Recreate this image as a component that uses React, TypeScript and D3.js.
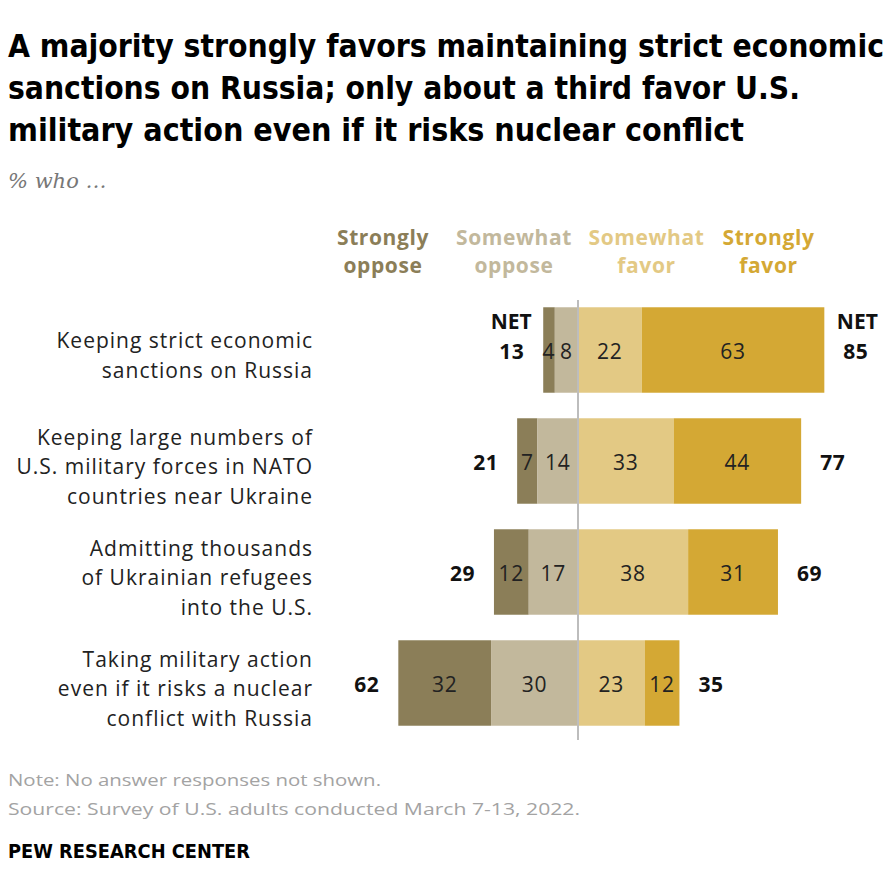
import React from "react";
import * as d3 from "d3";

const titleLines = [
  "A majority strongly favors maintaining strict economic",
  "sanctions on Russia; only about a third favor U.S.",
  "military action even if it risks nuclear conflict",
];
const subtitle = "% who \u2026";
const categories = [
  "Keeping strict economic sanctions on Russia",
  "Keeping large numbers of U.S. military forces in NATO countries near Ukraine",
  "Admitting thousands of Ukrainian refugees into the U.S.",
  "Taking military action even if it risks a nuclear conflict with Russia",
];
const categoryLines = [
  ["Keeping strict economic", "sanctions on Russia"],
  ["Keeping large numbers of", "U.S. military forces in NATO", "countries near Ukraine"],
  ["Admitting thousands", "of Ukrainian refugees", "into the U.S."],
  ["Taking military action", "even if it risks a nuclear", "conflict with Russia"],
];
const stronglyOppose = [4, 7, 12, 32];
const somewhatOppose = [8, 14, 17, 30];
const somewhatFavor = [22, 33, 38, 23];
const stronglyFavor = [63, 44, 31, 12];
const netOppose = [13, 21, 29, 62];
const netFavor = [85, 77, 69, 35];
const legendLabels = [
  ["Strongly", "oppose"],
  ["Somewhat", "oppose"],
  ["Somewhat", "favor"],
  ["Strongly", "favor"],
];
const noteText = "Note: No answer responses not shown.";
const sourceText = "Source: Survey of U.S. adults conducted March 7-13, 2022.";
const brandText = "PEW RESEARCH CENTER";

const COLORS = ["#8b7e58", "#c2b89c", "#e3c984", "#d4a834"];
const BODY = "'Open Sans', 'Liberation Sans', sans-serif";
const COND = "'Liberation Sans Narrow', 'DejaVu Sans Condensed', 'Roboto Condensed', sans-serif";

export default function App() {
  const W = 896;
  const H = 872;
  const center = 578;
  const unit = 2.898;
  const x = d3.scaleLinear().domain([-100, 100]).range([center - 100 * unit, center + 100 * unit]);
  const y = d3
    .scaleBand<string>()
    .domain(categories)
    .range([294.5, 738.5])
    .paddingInner(0.23)
    .paddingOuter(0.115);

  const legendCenters = [383, 514, 646.5, 768.5];

  return (
    <svg width={W} height={H} style={{ position: "absolute", left: 0, top: 0, background: "#fff" }}>
      {titleLines.map((t, i) => (
        <text
          key={i}
          x={8}
          y={57 + i * 42}
          fontFamily={COND}
          fontWeight={700}
          fontSize={31.5}
          fill="#000"
          textLength={[876, 792, 736][i]}
          lengthAdjust="spacingAndGlyphs"
        >
          {t}
        </text>
      ))}
      <text x={8} y={188} fontFamily="'DejaVu Serif', 'Liberation Serif', serif" fontStyle="italic" fontSize={21} fill="#777">
        {subtitle}
      </text>

      {legendLabels.map((lines, i) =>
        lines.map((l, j) => (
          <text
            key={i + "-" + j}
            x={legendCenters[i]}
            y={245 + j * 28}
            textAnchor="middle"
            fontFamily={BODY}
            fontWeight={700}
            fontSize={21}
            letterSpacing={0.6}
            fill={COLORS[i]}
          >
            {l}
          </text>
        ))
      )}

      {categories.map((c, i) => {
        const y0 = y(c)!;
        const bh = y.bandwidth();
        const cy = y0 + bh / 2;
        const segs = [
          { v: stronglyOppose[i], s: -(stronglyOppose[i] + somewhatOppose[i]), c: 0 },
          { v: somewhatOppose[i], s: -somewhatOppose[i], c: 1 },
          { v: somewhatFavor[i], s: 0, c: 2 },
          { v: stronglyFavor[i], s: somewhatFavor[i], c: 3 },
        ];
        const leftEdge = x(-(stronglyOppose[i] + somewhatOppose[i]));
        const rightEdge = x(somewhatFavor[i] + stronglyFavor[i]);
        const lines = categoryLines[i];
        const lh = 29.5;
        const firstBase = cy + 13 - ((lines.length - 1) * lh) / 2;
        return (
          <g key={c}>
            {lines.map((l, j) => (
              <text
                key={j}
                x={313}
                y={firstBase + j * lh}
                textAnchor="end"
                fontFamily={BODY}
                fontSize={21}
                letterSpacing={1}
                fill="#222"
              >
                {l}
              </text>
            ))}
            {segs.map((sg, k) => (
              <rect
                key={k}
                x={x(sg.s)}
                y={y0}
                width={x(sg.s + sg.v) - x(sg.s)}
                height={bh}
                fill={COLORS[sg.c]}
              />
            ))}
            {segs.map((sg, k) => (
              <text
                key={"t" + k}
                x={(x(sg.s) + x(sg.s + sg.v)) / 2}
                y={cy + 8.5}
                textAnchor="middle"
                fontFamily={BODY}
                fontSize={21}
                letterSpacing={0.8}
                fill="#222"
              >
                {sg.v}
              </text>
            ))}
            <text
              x={leftEdge - 19}
              y={cy + 9}
              textAnchor="end"
              fontFamily={BODY}
              fontWeight={700}
              fontSize={21}
              letterSpacing={0.5}
              fill="#111"
            >
              {netOppose[i]}
            </text>
            <text
              x={rightEdge + 19}
              y={cy + 9}
              textAnchor="start"
              fontFamily={BODY}
              fontWeight={700}
              fontSize={21}
              letterSpacing={0.5}
              fill="#111"
            >
              {netFavor[i]}
            </text>
            {i === 0 && (
              <>
                <text
                  x={leftEdge - 19 - 13}
                  y={cy - 21}
                  textAnchor="middle"
                  fontFamily={BODY}
                  fontWeight={700}
                  fontSize={21}
                  fill="#111"
                >
                  NET
                </text>
                <text
                  x={rightEdge + 19 + 14}
                  y={cy - 21}
                  textAnchor="middle"
                  fontFamily={BODY}
                  fontWeight={700}
                  fontSize={21}
                  fill="#111"
                >
                  NET
                </text>
              </>
            )}
          </g>
        );
      })}

      <line x1={center} x2={center} y1={300} y2={740} stroke="#bdbdbd" strokeWidth={2} />

      <text x={8} y={786} fontFamily={BODY} fontSize={17} fill="#a3a3a3" textLength={373} lengthAdjust="spacingAndGlyphs">
        {noteText}
      </text>
      <text x={8} y={815} fontFamily={BODY} fontSize={17} fill="#a3a3a3" textLength={572} lengthAdjust="spacingAndGlyphs">
        {sourceText}
      </text>
      <text x={8} y={858} fontFamily={COND} fontWeight={700} fontSize={20} fill="#000" textLength={242} lengthAdjust="spacingAndGlyphs">
        {brandText}
      </text>
    </svg>
  );
}
